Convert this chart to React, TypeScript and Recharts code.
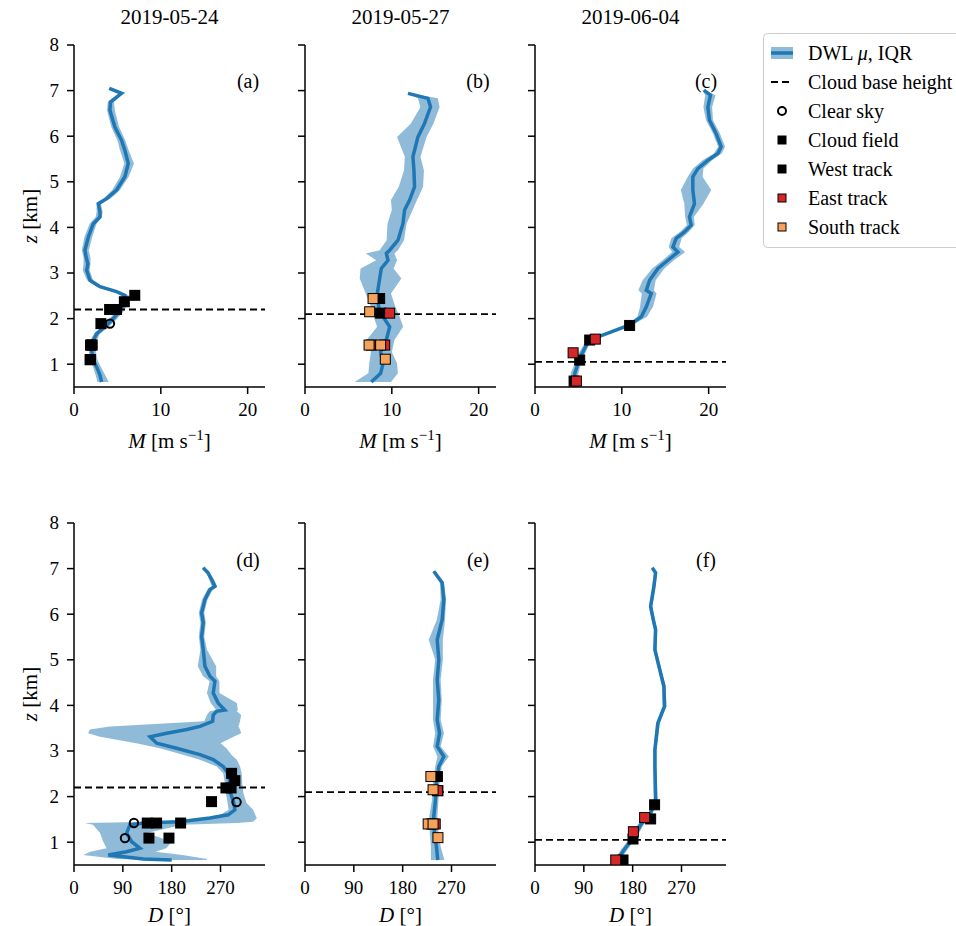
import React from "react";
import { ComposedChart, XAxis, YAxis, Area, Line, Scatter, ReferenceLine } from "recharts";

const FONT = "'Liberation Serif', 'Times New Roman', Times, serif";
const BLUE = "#1f77b4";
const RED = "#d62728";
const ORANGE = "#f5a35c";

// ---------- titles / ticks ----------
const dates = ["2019-05-24", "2019-05-27", "2019-06-04"];
const letters = ["(a)", "(b)", "(c)", "(d)", "(e)", "(f)"];
const zTicks = [1, 2, 3, 4, 5, 6, 7, 8];
const mTicks = [0, 10, 20];
const dTicks = [0, 90, 180, 270];
const cloudBase = [2.2, 2.1, 1.05];

// ---------- profiles: panel (a) M 2019-05-24 ----------
const aZ = [7.05, 6.94, 6.75, 6.57, 6.2, 5.91, 5.69, 5.4, 5.11, 4.82, 4.63, 4.52, 4.34, 4.23, 4.08, 3.79, 3.5, 3.34, 3.2, 3.06, 2.84, 2.7, 2.59, 2.51, 2.37, 2.18, 2.0, 1.82, 1.67, 1.45, 1.31, 1.09, 0.94, 0.76, 0.61];
const aM = [4.06, 5.48, 4.2, 4.14, 4.71, 5.48, 5.86, 6.25, 5.86, 4.9, 3.75, 2.8, 2.99, 2.99, 2.22, 1.65, 1.26, 1.4, 1.6, 1.46, 1.84, 2.99, 4.9, 5.86, 5.86, 5.29, 4.52, 3.56, 2.61, 2.03, 2.03, 2.22, 2.61, 2.99, 3.18];
const aLo = [4.0, 5.3, 3.9, 3.8, 4.3, 5.0, 5.3, 5.8, 5.3, 4.4, 3.4, 2.6, 2.6, 2.5, 1.8, 1.2, 0.9, 1.1, 1.1, 1.0, 1.5, 2.6, 4.6, 5.5, 5.5, 4.9, 4.1, 3.2, 2.3, 1.7, 1.7, 1.8, 2.2, 2.5, 2.7];
const aHi = [4.1, 5.6, 4.6, 4.7, 5.2, 5.9, 6.3, 6.9, 6.3, 5.3, 4.2, 3.1, 3.3, 3.2, 2.6, 2.1, 1.7, 1.9, 1.9, 1.8, 2.2, 3.3, 5.2, 6.3, 6.3, 5.8, 5.0, 4.0, 3.0, 2.4, 2.5, 2.7, 3.1, 3.6, 4.0];

// ---------- panel (b) M 2019-05-27 ----------
const bZ = [6.94, 6.83, 6.64, 6.28, 5.98, 5.55, 5.25, 4.89, 4.6, 4.38, 4.08, 3.72, 3.5, 3.43, 3.28, 3.1, 2.88, 2.55, 2.26, 2.04, 1.82, 1.53, 1.27, 1.02, 0.8, 0.61];
const bM = [11.86, 14.16, 14.46, 13.77, 13.0, 12.43, 12.55, 12.62, 12.05, 11.47, 11.28, 10.71, 9.75, 9.37, 9.56, 8.79, 8.6, 8.33, 8.48, 8.99, 9.75, 9.37, 8.71, 8.99, 8.71, 7.64];
const bLo = [11.8, 13.0, 13.3, 12.2, 10.6, 11.5, 11.4, 10.8, 9.9, 10.0, 9.5, 9.4, 8.6, 7.0, 8.2, 6.4, 6.3, 7.0, 7.6, 7.9, 8.3, 7.1, 7.6, 7.4, 7.3, 5.7];
const bHi = [12.0, 15.3, 15.5, 14.8, 14.0, 13.3, 13.7, 13.6, 12.9, 12.4, 11.7, 11.4, 10.7, 10.3, 10.6, 10.2, 11.1, 9.9, 10.4, 10.9, 11.3, 10.3, 10.0, 10.6, 10.7, 9.9];

// ---------- panel (c) M 2019-06-04 ----------
const cZ = [7.01, 6.9, 6.64, 6.35, 6.06, 5.77, 5.62, 5.47, 5.29, 5.11, 4.82, 4.52, 4.23, 4.05, 3.9, 3.76, 3.57, 3.46, 3.28, 3.1, 2.84, 2.62, 2.55, 2.26, 2.04, 1.86, 1.71, 1.56, 1.42, 1.2, 1.02, 0.8, 0.61];
const cM = [19.45, 20.21, 19.91, 20.1, 20.86, 21.44, 21.06, 19.9, 18.76, 18.18, 18.18, 18.37, 17.79, 17.99, 17.22, 16.26, 15.89, 16.46, 15.31, 14.16, 13.2, 12.82, 13.39, 12.82, 12.24, 10.9, 8.79, 6.69, 5.92, 5.34, 4.97, 4.58, 4.5];
const cLo = [19.3, 19.6, 19.4, 19.7, 20.5, 21.1, 20.6, 19.3, 18.2, 17.6, 16.8, 17.2, 17.3, 17.5, 16.7, 15.7, 15.4, 15.8, 14.7, 13.5, 12.4, 11.9, 12.3, 12.1, 11.8, 10.7, 8.6, 6.5, 5.6, 4.9, 4.6, 4.1, 4.2];
const cHi = [19.6, 20.8, 20.4, 20.5, 21.3, 21.9, 21.5, 20.4, 19.4, 19.3, 20.3, 19.4, 18.3, 18.4, 17.7, 16.9, 16.6, 17.3, 16.0, 14.9, 13.9, 13.7, 14.0, 13.6, 12.9, 11.2, 9.0, 6.9, 6.2, 5.7, 5.3, 5.0, 4.8];

// ---------- panel (d) D 2019-05-24 ----------
const dZ = [7.02, 6.91, 6.76, 6.61, 6.54, 6.32, 6.03, 5.81, 5.51, 5.22, 4.86, 4.64, 4.53, 4.27, 4.05, 3.9, 3.87, 3.79, 3.65, 3.54, 3.47, 3.39, 3.31, 3.17, 3.06, 2.92, 2.81, 2.66, 2.51, 2.3, 2.08, 1.86, 1.71, 1.6, 1.53, 1.45, 1.42, 1.38, 1.2, 1.01, 0.87, 0.79, 0.72, 0.63, 0.61];
const dM = [238, 247, 253.6, 259.7, 250.5, 241.3, 235.2, 238.2, 235.2, 238.2, 241.3, 250.5, 259.7, 256.6, 265.8, 278, 262.7, 256.6, 255.5, 232.3, 207.8, 170.9, 140.2, 152.4, 189.2, 232.3, 256.6, 275, 284.2, 287.3, 288.5, 294.6, 296.5, 284.2, 250.5, 195.3, 127.7, 103.1, 97, 106.2, 121.5, 97, 63.2, 127.7, 180];
const dLo = [236, 244, 249, 254, 246, 236, 230, 233, 230, 233, 228, 238, 250, 245, 252, 262, 250, 245, 240, 66, 29, 26, 48, 115, 158, 201, 232, 263, 275, 278, 280, 283, 285, 270, 240, 150, 20, 35, 48, 54, 60, 30, 17, 80, 150];
const dHi = [240, 250, 258, 264, 256, 246, 240, 243, 240, 245, 262, 262, 268, 268, 300, 302, 300, 308, 306, 303, 306, 308, 294, 270, 281, 290, 300, 306, 309, 310, 312, 318, 330, 334, 337, 330, 300, 200, 134, 180, 170, 150, 200, 245, 245];

// ---------- panel (e) D 2019-05-27 ----------
const eZ = [6.94, 6.69, 6.32, 5.88, 5.44, 5.0, 4.56, 4.12, 3.68, 3.39, 3.1, 2.88, 2.66, 2.3, 1.93, 1.56, 1.2, 0.9, 0.61];
const eM = [237.3, 252.8, 255.8, 252.8, 243.6, 246.6, 243.6, 246.6, 243.6, 248, 243.6, 255.8, 246.6, 242.3, 240.5, 237.3, 238.6, 242.3, 244.7];
const eLo = [236, 249, 250, 243, 228, 240, 236, 236, 236, 240, 236, 244, 240, 236, 234, 229, 230, 232, 232];
const eHi = [239, 256, 260, 258, 254, 254, 250, 252, 250, 256, 250, 265, 252, 248, 246, 244, 246, 250, 257];

// ---------- panel (f) D 2019-06-04 ----------
const fZ = [7.02, 6.91, 6.61, 6.17, 5.88, 5.66, 5.22, 4.86, 4.42, 3.98, 3.61, 3.03, 2.66, 1.93, 1.64, 1.38, 1.12, 0.83, 0.61];
const fM = [216.1, 222.3, 219.2, 213.1, 218, 222.3, 221, 228.4, 237.6, 238.8, 226.5, 221, 221, 222.3, 213.1, 194.7, 182.4, 164, 151.9];
const fLo = [214, 219, 216, 210, 215, 219, 218, 225, 234, 235, 223, 218, 218, 219, 209, 189, 177, 158, 147];
const fHi = [218, 225, 222, 216, 221, 225, 224, 231, 241, 242, 230, 224, 224, 226, 217, 200, 188, 170, 157];

// ---------- observations ----------
const aCloudV = [7.0, 5.8, 4.1, 4.9, 3.1, 2.0, 1.9, 2.1, 1.85, 1.9];
const aCloudZ = [2.51, 2.37, 2.2, 2.2, 1.89, 1.42, 1.42, 1.42, 1.1, 1.1];
const aClearV = [4.14, 2.0, 1.9];
const aClearZ = [1.89, 1.42, 1.1];
const dCloudV = [290.4, 296.5, 280, 289.5, 253.5, 135, 152.2, 196.5, 138.1, 175];
const dCloudZ = [2.51, 2.35, 2.19, 2.19, 1.89, 1.42, 1.42, 1.42, 1.09, 1.09];
const dClearV = [299.6, 110.5, 93.9];
const dClearZ = [1.88, 1.42, 1.09];

const bWestV = [8.6, 8.71];
const bWestZ = [2.44, 2.12];
const bEastV = [9.75, 7.64, 9.18];
const bEastZ = [2.12, 1.42, 1.42];
const bSouthV = [7.84, 7.45, 7.38, 8.71, 9.25];
const bSouthZ = [2.44, 2.15, 1.42, 1.42, 1.11];
const eWestV = [244, 245];
const eWestZ = [2.44, 2.13];
const eEastV = [244, 233, 240];
const eEastZ = [2.13, 1.4, 1.4];
const eSouthV = [232, 236, 227, 236, 245];
const eSouthZ = [2.44, 2.15, 1.4, 1.4, 1.1];

const cWestV = [10.9, 6.3, 5.15, 4.5];
const cWestZ = [1.85, 1.53, 1.09, 0.63];
const cEastV = [6.95, 4.39, 4.77];
const cEastZ = [1.55, 1.25, 0.63];
const fWestV = [220.4, 213.1, 180.6, 162.2];
const fWestZ = [1.82, 1.51, 1.07, 0.61];
const fEastV = [202, 181.3, 148.8];
const fEastZ = [1.54, 1.23, 0.61];

// ---------- helpers ----------
const prof = (z: number[], m: number[], lo: number[], hi: number[]) =>
  z.map((zz, i) => ({ z: zz, m: m[i], band: [lo[i], hi[i]] }));
const pts = (v: number[], z: number[]) => v.map((vv, i) => ({ v: vv, z: z[i] }));

type Kind = "clear" | "cloud" | "west" | "east" | "south";

const makeShape = (kind: Kind) => (p: any) => {
  const { cx, cy } = p;
  if (cx == null || cy == null) return <g />;
  if (kind === "clear")
    return <circle cx={cx} cy={cy} r={4.2} fill="none" stroke="#000" strokeWidth={2} />;
  if (kind === "cloud") {
    const s = 11;
    return <rect x={cx - s / 2} y={cy - s / 2} width={s} height={s} fill="#000" />;
  }
  const s = 10;
  const fill = kind === "west" ? "#000" : kind === "east" ? RED : ORANGE;
  return <rect x={cx - s / 2} y={cy - s / 2} width={s} height={s} fill={fill} stroke="#000" strokeWidth={1} />;
};

const XTick = (p: any) => (
  <text x={p.x} y={p.y} dy="0.72em" textAnchor="middle" fontSize={19} fontFamily={FONT} fill="#000">
    {p.payload.value}
  </text>
);
const YTickLabel = (p: any) => (
  <text x={p.x} y={p.y} dy="0.34em" textAnchor="end" fontSize={19} fontFamily={FONT} fill="#000">
    {p.payload.value}
  </text>
);
const YTickBlank = () => <g />;

type Obs = { kind: Kind; data: { v: number; z: number }[] };

const PW = 191;
const PH = 342;
const colLeft = [74, 305, 535];
const rowTop = [45, 523];

function Panel(props: {
  col: number;
  row: number;
  data: any[];
  domain: [number, number];
  ticks: number[];
  cbh: number;
  obs: Obs[];
}) {
  const { col, row, data, domain, ticks, cbh, obs } = props;
  const left = colLeft[col] - 60;
  const top = rowTop[row] - 10;
  return (
    <div style={{ position: "absolute", left, top, fontFamily: FONT }}>
      <ComposedChart
        layout="vertical"
        width={60 + PW + 10}
        height={10 + PH + 60}
        data={data}
        margin={{ top: 10, right: 10, left: 0, bottom: 0 }}
      >
        <XAxis
          type="number"
          domain={domain}
          ticks={ticks}
          allowDataOverflow
          height={60}
          tickSize={7}
          tickMargin={8}
          axisLine={{ stroke: "#000", strokeWidth: 1.5 }}
          tickLine={{ stroke: "#000", strokeWidth: 1.5 }}
          tick={<XTick />}
        />
        <YAxis
          type="number"
          dataKey="z"
          domain={[0.5, 8]}
          ticks={zTicks}
          allowDataOverflow
          reversed
          width={60}
          tickSize={7}
          tickMargin={8}
          axisLine={{ stroke: "#000", strokeWidth: 1.5 }}
          tickLine={{ stroke: "#000", strokeWidth: 1.5 }}
          tick={col === 0 ? <YTickLabel /> : <YTickBlank />}
        />
        <Area dataKey="band" type="linear" stroke="none" fill={BLUE} fillOpacity={0.5} isAnimationActive={false} />
        <Line dataKey="m" type="linear" stroke={BLUE} strokeWidth={3.5} dot={false} isAnimationActive={false} />
        <ReferenceLine y={cbh} stroke="#000" strokeWidth={1.8} strokeDasharray="7 4" />
        {obs.map((o, i) => (
          <Scatter key={i} data={o.data} dataKey="v" shape={makeShape(o.kind)} isAnimationActive={false} />
        ))}
      </ComposedChart>
    </div>
  );
}

const legendItems: { label: string; kind: string }[] = [
  { label: "DWL", kind: "dwl" },
  { label: "Cloud base height", kind: "cbh" },
  { label: "Clear sky", kind: "clear" },
  { label: "Cloud field", kind: "cloud" },
  { label: "West track", kind: "west" },
  { label: "East track", kind: "east" },
  { label: "South track", kind: "south" },
];

function LegendMarker({ kind, y }: { kind: string; y: number }) {
  const x = 782;
  if (kind === "dwl")
    return (
      <g>
        <rect x={771} y={y - 6} width={22} height={12} fill={BLUE} fillOpacity={0.5} />
        <line x1={771} x2={793} y1={y} y2={y} stroke={BLUE} strokeWidth={3.5} />
      </g>
    );
  if (kind === "cbh")
    return <line x1={771} x2={793} y1={y} y2={y} stroke="#000" strokeWidth={1.8} strokeDasharray="7 4" />;
  if (kind === "clear") return <circle cx={x} cy={y} r={4} fill="none" stroke="#000" strokeWidth={2} />;
  if (kind === "cloud") return <rect x={x - 4.5} y={y - 4.5} width={9} height={9} fill="#000" />;
  const fill = kind === "west" ? "#000" : kind === "east" ? RED : ORANGE;
  return <rect x={x - 4} y={y - 4} width={8} height={8} fill={fill} stroke="#000" strokeWidth={1} />;
}

export default function App() {
  const dataA = prof(aZ, aM, aLo, aHi);
  const dataB = prof(bZ, bM, bLo, bHi);
  const dataC = prof(cZ, cM, cLo, cHi);
  const dataD = prof(dZ, dM, dLo, dHi);
  const dataE = prof(eZ, eM, eLo, eHi);
  const dataF = prof(fZ, fM, fLo, fHi);
  const mDom: [number, number] = [0, 22];
  const dDom: [number, number] = [0, 352];
  const letterPos = [
    [248, 88],
    [478, 88],
    [706, 88],
    [248, 567],
    [478, 567],
    [706, 567],
  ];
  return (
    <div
      style={{
        position: "absolute",
        left: 0,
        top: 0,
        width: 956,
        height: 926,
        overflow: "hidden",
        background: "#fff",
        fontFamily: FONT,
      }}
    >
      <Panel col={0} row={0} data={dataA} domain={mDom} ticks={mTicks} cbh={cloudBase[0]}
        obs={[{ kind: "clear", data: pts(aClearV, aClearZ) }, { kind: "cloud", data: pts(aCloudV, aCloudZ) }]} />
      <Panel col={1} row={0} data={dataB} domain={mDom} ticks={mTicks} cbh={cloudBase[1]}
        obs={[{ kind: "west", data: pts(bWestV, bWestZ) }, { kind: "east", data: pts(bEastV, bEastZ) }, { kind: "south", data: pts(bSouthV, bSouthZ) }]} />
      <Panel col={2} row={0} data={dataC} domain={mDom} ticks={mTicks} cbh={cloudBase[2]}
        obs={[{ kind: "west", data: pts(cWestV, cWestZ) }, { kind: "east", data: pts(cEastV, cEastZ) }]} />
      <Panel col={0} row={1} data={dataD} domain={dDom} ticks={dTicks} cbh={cloudBase[0]}
        obs={[{ kind: "clear", data: pts(dClearV, dClearZ) }, { kind: "cloud", data: pts(dCloudV, dCloudZ) }]} />
      <Panel col={1} row={1} data={dataE} domain={dDom} ticks={dTicks} cbh={cloudBase[1]}
        obs={[{ kind: "west", data: pts(eWestV, eWestZ) }, { kind: "east", data: pts(eEastV, eEastZ) }, { kind: "south", data: pts(eSouthV, eSouthZ) }]} />
      <Panel col={2} row={1} data={dataF} domain={dDom} ticks={dTicks} cbh={cloudBase[2]}
        obs={[{ kind: "west", data: pts(fWestV, fWestZ) }, { kind: "east", data: pts(fEastV, fEastZ) }]} />

      <svg width={956} height={926} style={{ position: "absolute", left: 0, top: 0, pointerEvents: "none" }}>
        <g fill="#000" fontFamily={FONT}>
          {dates.map((d, i) => (
            <text key={d} x={colLeft[i] + PW / 2} y={24} fontSize={21} textAnchor="middle">{d}</text>
          ))}
          {letters.map((l, i) => (
            <text key={l} x={letterPos[i][0]} y={letterPos[i][1]} fontSize={20} textAnchor="middle">{l}</text>
          ))}
          {colLeft.map((L, i) => (
            <text key={"m" + i} x={L + PW / 2} y={448} fontSize={21} textAnchor="middle">
              <tspan fontStyle="italic">M</tspan>
              <tspan> [m s</tspan>
              <tspan fontSize={15} dy={-8}>−1</tspan>
              <tspan dy={8}>]</tspan>
            </text>
          ))}
          {colLeft.map((L, i) => (
            <text key={"d" + i} x={L + PW / 2} y={922} fontSize={21} textAnchor="middle">
              <tspan fontStyle="italic">D</tspan>
              <tspan> [°]</tspan>
            </text>
          ))}
          {rowTop.map((T, i) => (
            <text key={"z" + i} transform={`translate(37, ${T + PH / 2}) rotate(-90)`} fontSize={21} textAnchor="middle">
              <tspan fontStyle="italic">z</tspan>
              <tspan> [km]</tspan>
            </text>
          ))}
          <rect x={763.5} y={33.5} width={220} height={214} rx={4} fill="#fff" stroke="#cccccc" strokeWidth={1} />
          {legendItems.map((it, i) => {
            const y = 53 + i * 29;
            return (
              <g key={it.label}>
                <LegendMarker kind={it.kind} y={y} />
                <text x={808} y={y + 7} fontSize={20}>
                  {it.kind === "dwl" ? (
                    <>
                      <tspan>DWL </tspan>
                      <tspan fontStyle="italic">μ</tspan>
                      <tspan>, IQR</tspan>
                    </>
                  ) : (
                    it.label
                  )}
                </text>
              </g>
            );
          })}
        </g>
      </svg>
    </div>
  );
}
